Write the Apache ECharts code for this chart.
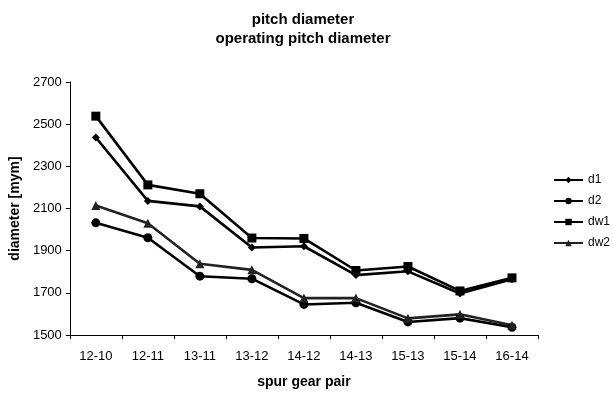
<!DOCTYPE html>
<html>
<head>
<meta charset="utf-8">
<script src="https://cdn.jsdelivr.net/npm/echarts@6/dist/echarts.min.js"></script>
<style>
  html, body { margin: 0; padding: 0; background: #fff; }
  #chart { width: 613px; height: 394px; }
</style>
</head>
<body>
<div id="chart"></div>
<script>
// spur gear pairs on the x axis
var pairs = ['12-10', '12-11', '13-11', '13-12', '14-12', '14-13', '15-13', '15-14', '16-14']
// pitch diameters
var d1 = [2437, 2136, 2110, 1915, 1921, 1784, 1802, 1697, 1765]
var d2 = [2032, 1961, 1779, 1767, 1645, 1653, 1562, 1580, 1537]
// operating pitch diameters
var dw1 = [2538, 2212, 2170, 1960, 1958, 1806, 1825, 1709, 1771]
var dw2 = [2114, 2030, 1838, 1809, 1675, 1675, 1579, 1598, 1546]

var font = 'Liberation Sans, Arial, sans-serif'

function line (name, data, symbol, size, color) {
  return {
    name: name,
    type: 'line',
    data: data,
    symbol: symbol,
    symbolSize: size,
    showAllSymbol: true,
    lineStyle: { color: color, width: 2.6 },
    itemStyle: { color: color },
    emphasis: { disabled: true }
  }
}

var option = {
  animation: false,
  title: {
    text: 'pitch diameter\noperating pitch diameter',
    left: 303,
    textAlign: 'center',
    top: 10,
    padding: 0,
    textStyle: { fontFamily: font, fontSize: 15, fontWeight: 'bold', color: '#000', lineHeight: 19.5 }
  },
  legend: {
    orient: 'vertical',
    left: 548,
    top: 168,
    itemGap: 7,
    itemWidth: 29,
    itemHeight: 8,
    textStyle: { fontFamily: font, fontSize: 12, color: '#000', lineHeight: 14, padding: 0 },
    data: ['d1', 'd2', 'dw1', 'dw2']
  },
  grid: { left: 68, right: 75, top: 82, bottom: 54, containLabel: false },
  xAxis: {
    type: 'category',
    data: pairs,
    boundaryGap: true,
    name: 'spur gear pair',
    nameLocation: 'middle',
    nameGap: 40,
    nameTextStyle: { fontFamily: font, fontSize: 14, fontWeight: 'bold', color: '#000' },
    axisLine: { lineStyle: { color: '#000', width: 1 } },
    axisTick: { show: true, length: 4, inside: false, lineStyle: { color: '#000' } },
    axisLabel: { fontFamily: font, fontSize: 13, color: '#000', margin: 15 }
  },
  yAxis: {
    type: 'value',
    min: 1500,
    max: 2700,
    interval: 200,
    name: 'diameter [mym]',
    nameLocation: 'middle',
    nameGap: 46,
    nameRotate: 90,
    nameTextStyle: { fontFamily: font, fontSize: 14, fontWeight: 'bold', color: '#000' },
    axisLine: { show: true, lineStyle: { color: '#000', width: 1 } },
    axisTick: { show: true, length: 4, lineStyle: { color: '#000' } },
    splitLine: { show: false },
    axisLabel: { fontFamily: font, fontSize: 13, color: '#000', margin: 8, formatter: function (v) { return String(v) } }
  },
  series: [
    line('d1', d1, 'diamond', 8, '#000'),
    line('d2', d2, 'circle', 9, '#000'),
    line('dw1', dw1, 'rect', 9, '#000'),
    line('dw2', dw2, 'triangle', 9, '#222')
  ]
}

var myChart = echarts.init(document.getElementById('chart'))
myChart.setOption(option)
</script>
</body>
</html>
